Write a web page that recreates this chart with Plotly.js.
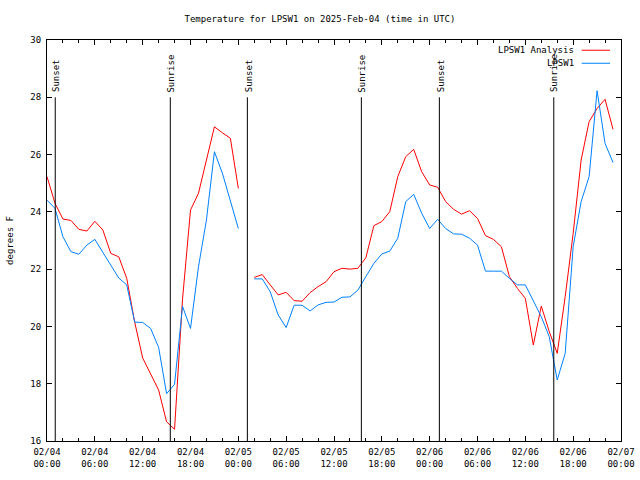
<!DOCTYPE html>
<html>
<head>
<meta charset="utf-8">
<script src="https://cdn.plot.ly/plotly-3.0.1.min.js"></script>
<style>html,body{margin:0;padding:0;background:#fff;}#chart{width:640px;height:480px;}</style>
</head>
<body>
<div id="chart"></div>
<script>
// hourly observation times starting 2025-02-04 00:00 UTC (72 hours)
const startTime = Date.UTC(2025, 1, 4, 0, 0);
const times = [];
for (let h = 0; h < 72; h++) {
  const d = new Date(startTime + h * 3600000);
  times.push(d.toISOString().slice(0, 16).replace('T', ' '));
}

const analysis = [
  25.23, 24.30, 23.75, 23.70, 23.39, 23.33, 23.67, 23.37, 22.55, 22.43,
  21.68, 20.15, 18.90, 18.36, 17.78, 16.67, 16.41, 20.95, 24.06, 24.65,
  25.81, 26.97, 26.76, 26.57, 24.82, null, 21.71, 21.81, 21.45, 21.10,
  21.19, 20.90, 20.88, 21.18, 21.39, 21.56, 21.91, 22.03, 22.00, 22.03,
  22.40, 23.52, 23.66, 24.01, 25.23, 25.93, 26.18, 25.40, 24.94, 24.86,
  24.36, 24.09, 23.92, 24.04, 23.77, 23.17, 23.04, 22.78, 21.74, 21.33,
  20.98, 19.35, 20.71, 19.82, 19.06, 21.04, 23.25, 25.81, 27.15, 27.61,
  27.93, 26.88
];

const observed = [
  24.41, 24.12, 23.13, 22.61, 22.52, 22.84, 23.04, 22.58, 22.17, 21.69,
  21.45, 20.15, 20.14, 19.93, 19.27, 17.65, 17.98, 20.70, 19.93, 22.08,
  23.72, 26.10, 25.35, 24.41, 23.42, null, 21.66, 21.66, 21.21, 20.40,
  19.96, 20.74, 20.74, 20.54, 20.75, 20.84, 20.85, 21.02, 21.03, 21.27,
  21.74, 22.20, 22.53, 22.63, 23.08, 24.36, 24.61, 23.95, 23.42, 23.74,
  23.42, 23.23, 23.22, 23.08, 22.84, 21.93, 21.93, 21.93, 21.68, 21.45,
  21.45, 20.92, 20.34, 19.64, 18.13, 19.06, 22.78, 24.36, 25.23, 28.23,
  26.39, 25.72
];

const sunEventTimes = [
  '2025-02-04 01:02', '2025-02-04 15:28', '2025-02-05 01:08',
  '2025-02-05 15:26', '2025-02-06 01:13', '2025-02-06 15:34'
];
const sunEventLabels = ['Sunset', 'Sunrise', 'Sunset', 'Sunrise', 'Sunset', 'Sunrise'];

const seriesNames = ['LPSW1 Analysis', 'LPSW1'];
const seriesColors = ['#ff0000', '#0080ff'];

const FONT = 'DejaVu Sans Mono, monospace';

const traces = [
  {x: times, y: analysis, name: seriesNames[0], type: 'scatter', mode: 'lines',
   line: {color: seriesColors[0], width: 1}, connectgaps: false},
  {x: times, y: observed, name: seriesNames[1], type: 'scatter', mode: 'lines',
   line: {color: seriesColors[1], width: 1}, connectgaps: false}
];

const shapes = [];
const annotations = [];
sunEventTimes.forEach((t, i) => {
  shapes.push({type: 'line', xref: 'x', yref: 'y', x0: t, x1: t, y0: 16, y1: 28,
               line: {color: '#000', width: 1}});
  annotations.push({xref: 'x', yref: 'y', x: t, y: 28, text: sunEventLabels[i],
                    textangle: -90, showarrow: false, xanchor: 'center', yanchor: 'bottom',
                    yshift: 3, xshift: 1, font: {family: FONT, size: 9, color: '#000'}});
});

// manual legend (text left of line sample, as in the reference)
const legY = [0.9745, 0.9420];
seriesNames.forEach((n, i) => {
  annotations.push({xref: 'paper', yref: 'paper', x: 0.9215, y: legY[i], text: n,
                    showarrow: false, xanchor: 'right', yanchor: 'middle',
                    font: {family: FONT, size: 9, color: '#000'}});
  shapes.push({type: 'line', xref: 'paper', yref: 'paper', x0: 0.9315, x1: 0.9808,
               y0: legY[i], y1: legY[i], line: {color: seriesColors[i], width: 1}});
});

const layout = {
  width: 640, height: 480,
  margin: {l: 47, r: 19, t: 40, b: 39},
  paper_bgcolor: '#fff', plot_bgcolor: '#fff',
  showlegend: false,
  font: {family: FONT, size: 9, color: '#000'},
  title: {text: 'Temperature for LPSW1 on 2025-Feb-04 (time in UTC)',
          x: 0.5, xref: 'container', y: 0.9604, yref: 'container', yanchor: 'middle',
          font: {family: FONT, size: 9, color: '#000'}},
  xaxis: {
    type: 'date', range: ['2025-02-04 00:00', '2025-02-07 00:00'],
    tick0: '2025-02-04 00:00', dtick: 21600000, tickformat: '%m/%d<br>%H:%M',
    ticks: 'inside', ticklen: 5, tickcolor: '#000', tickwidth: 1,
    minor: {dtick: 7200000, ticks: 'inside', ticklen: 3, tickcolor: '#000', tickwidth: 1, showgrid: false},
    showline: true, linecolor: '#000', linewidth: 1, mirror: 'ticks',
    showgrid: false, zeroline: false, fixedrange: true, ticklabelstandoff: 2,
    tickfont: {family: FONT, size: 9, color: '#000'}
  },
  yaxis: {
    range: [16, 30], dtick: 2, tick0: 16,
    ticks: 'inside', ticklen: 5, tickcolor: '#000', tickwidth: 1,
    showline: true, linecolor: '#000', linewidth: 1, mirror: 'ticks',
    showgrid: false, zeroline: false, fixedrange: true, ticklabelstandoff: 3,
    tickfont: {family: FONT, size: 9, color: '#000'},
    title: {text: 'degrees F', standoff: 15, font: {family: FONT, size: 9, color: '#000'}}
  },
  shapes: shapes,
  annotations: annotations
};

Plotly.newPlot('chart', traces, layout, {staticPlot: true, displayModeBar: false});
</script>
</body>
</html>
